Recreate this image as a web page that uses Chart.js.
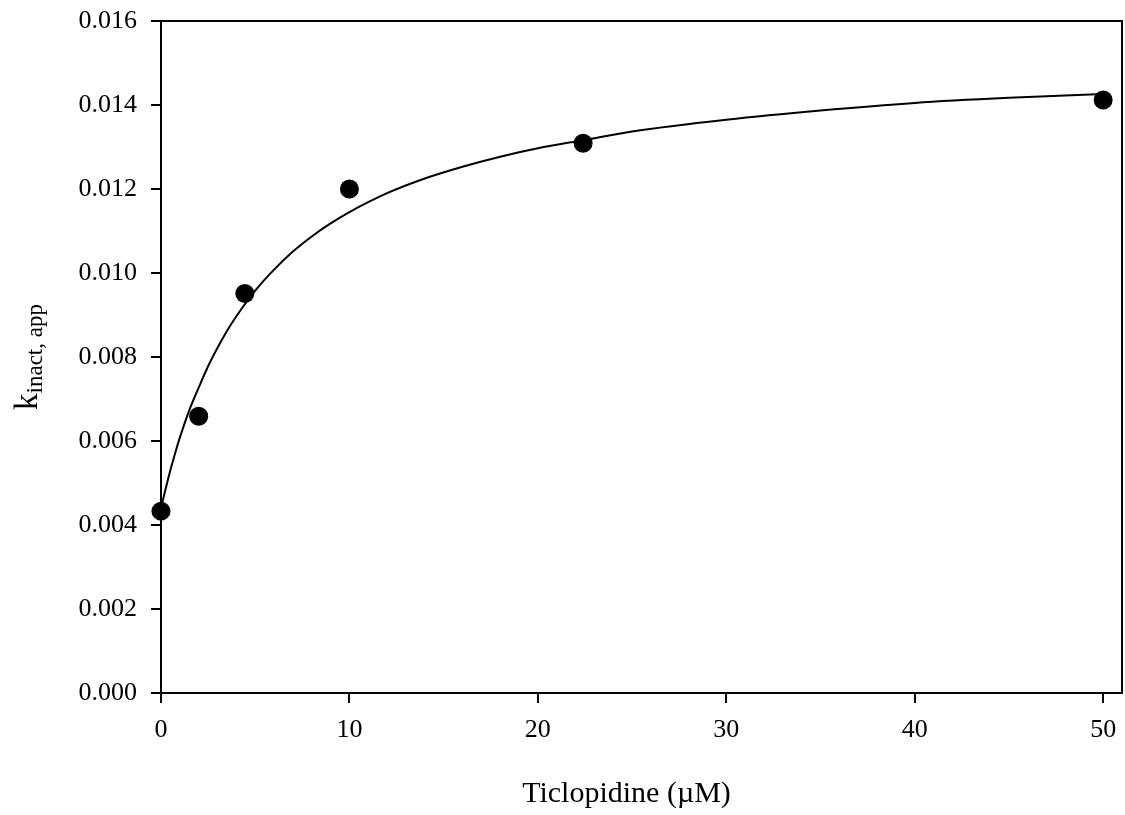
<!DOCTYPE html>
<html>
<head>
<meta charset="utf-8">
<title>Ticlopidine kinact,app</title>
<script src="https://cdn.jsdelivr.net/npm/chart.js@4.4.0/dist/chart.umd.min.js"></script>
<style>
  html, body { margin: 0; padding: 0; background: #fff; }
  #wrap { width: 1125px; height: 815px; }
</style>
</head>
<body>
<div id="wrap"><canvas id="grafico"></canvas></div>
<script>
// measured points
const ticlopidine = [0, 2, 4.45, 10, 22.4, 50];
const kinactApp = [0.00433, 0.00659, 0.00951, 0.0120, 0.01309, 0.01412];

// fitted curve, sampled along its path
const curveX = [0, 0.25, 0.5, 0.75, 1, 1.5, 2, 2.5, 3, 3.5, 4, 5, 6, 7, 8, 9, 10, 12, 14, 16, 18, 20, 22.5, 25, 30, 35, 40, 45, 50];
const curveY = [0.00440, 0.00487, 0.00531, 0.00571, 0.00608, 0.00673, 0.00727, 0.00778, 0.00822, 0.00862,
                0.00897, 0.00958, 0.01008, 0.01051, 0.01087, 0.01118, 0.01145, 0.01190, 0.01225, 0.01253,
                0.01277, 0.01297, 0.01317, 0.01337, 0.01365, 0.01387, 0.01405, 0.01417, 0.01426];

const xTicks = [0, 10, 20, 30, 40, 50];
const yTicks = [0, 0.002, 0.004, 0.006, 0.008, 0.010, 0.012, 0.014, 0.016];

const serif = 'Liberation Serif, Times New Roman, serif';

// keep label overhang from shrinking the plot box
const noPadding = (s) => { s.paddingLeft = 0; s.paddingRight = 0; s.paddingTop = 0; s.paddingBottom = 0; };

// box around the plot + axis titles (the y one has a subscript)
const frameAndTitles = {
    id: 'frameAndTitles',
    beforeDatasetsDraw(chart) {
        const { ctx, chartArea: a } = chart;
        ctx.save();
        ctx.strokeStyle = '#000';
        ctx.lineWidth = 2;
        ctx.strokeRect(a.left, a.top, a.right - a.left, a.bottom - a.top);
        ctx.restore();
    },
    afterDraw(chart) {
        const { ctx, chartArea: a } = chart;
        ctx.save();
        ctx.fillStyle = '#000';
        ctx.textBaseline = 'alphabetic';

        ctx.font = `30px ${serif}`;
        ctx.textAlign = 'center';
        ctx.fillText('Ticlopidine (\u00B5M)', (a.left + a.right) / 2 - 15, 802);

        ctx.translate(37, (a.top + a.bottom) / 2);
        ctx.rotate(-Math.PI / 2);
        ctx.textAlign = 'left';
        ctx.font = `33px ${serif}`;
        const wk = ctx.measureText('k').width;
        ctx.font = `23px ${serif}`;
        const ws = ctx.measureText('inact, app').width;
        const start = -(wk + ws) / 2;
        ctx.font = `33px ${serif}`;
        ctx.fillText('k', start, 0);
        ctx.font = `23px ${serif}`;
        ctx.fillText('inact, app', start + wk, 5);
        ctx.restore();
    }
};

const ctx = document.getElementById('grafico').getContext('2d');
new Chart(ctx, {
    type: 'scatter',
    data: {
        datasets: [
            {
                data: ticlopidine.map((x, i) => ({ x, y: kinactApp[i] })),
                backgroundColor: '#000',
                borderWidth: 0,
                pointRadius: 9.5,
                clip: false
            },
            {
                data: curveX.map((x, i) => ({ x, y: curveY[i] })),
                showLine: true,
                borderColor: '#000',
                borderWidth: 2,
                pointRadius: 0,
                cubicInterpolationMode: 'monotone',
                fill: false
            }
        ]
    },
    options: {
        responsive: true,
        maintainAspectRatio: false,
        animation: false,
        events: [],
        layout: { autoPadding: false, padding: { top: 21, right: 3, left: 0, bottom: 0 } },
        plugins: { legend: { display: false }, tooltip: { enabled: false } },
        scales: {
            x: {
                type: 'linear',
                min: 0,
                max: 51,
                afterBuildTicks: (s) => { s.ticks = xTicks.map(v => ({ value: v })); },
                afterFit: (s) => { s.height = 122; noPadding(s); },
                border: { display: false },
                grid: { drawOnChartArea: false, color: '#000', lineWidth: 2, tickLength: 10 },
                ticks: {
                    color: '#000',
                    padding: 12,
                    maxRotation: 0,
                    font: { family: serif, size: 26 },
                    callback: (v) => String(v)
                }
            },
            y: {
                type: 'linear',
                min: 0,
                max: 0.016,
                afterBuildTicks: (s) => { s.ticks = yTicks.map(v => ({ value: v })); },
                afterFit: (s) => { s.width = 161; noPadding(s); },
                border: { display: false },
                grid: { drawOnChartArea: false, color: '#000', lineWidth: 2, tickLength: 10 },
                ticks: {
                    color: '#000',
                    padding: 14,
                    font: { family: serif, size: 26 },
                    callback: (v) => v.toFixed(3)
                }
            }
        }
    },
    plugins: [frameAndTitles]
});
</script>
</body>
</html>
